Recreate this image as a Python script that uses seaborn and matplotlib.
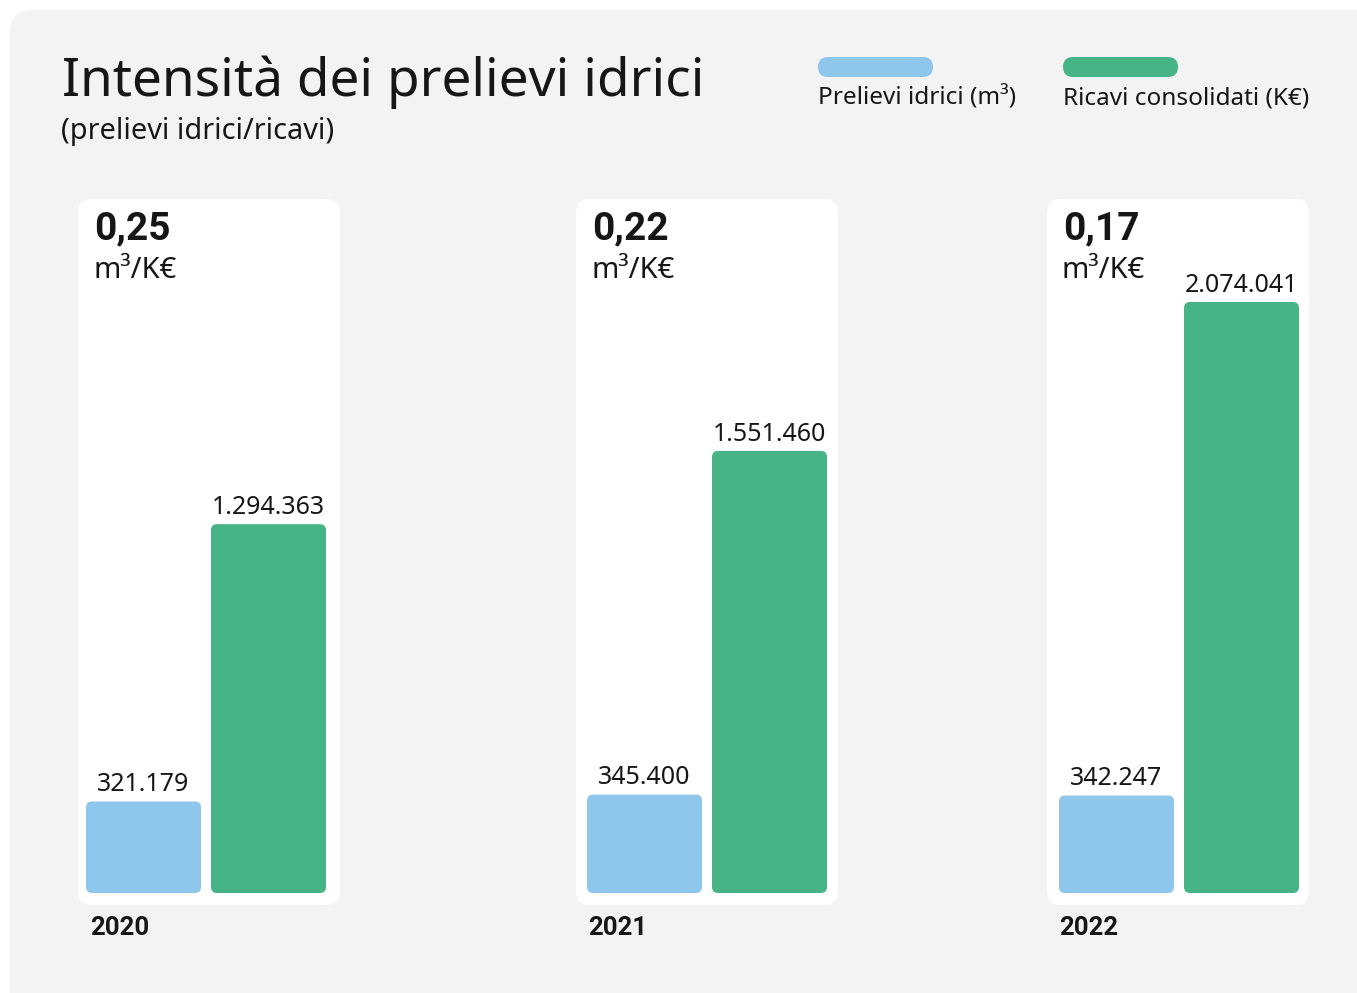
import matplotlib
matplotlib.use("Agg")
import matplotlib.pyplot as plt
from matplotlib.patches import FancyBboxPatch
from matplotlib.transforms import IdentityTransform
import seaborn as sns
import pandas as pd

# Data
years = ["2020", "2021", "2022"]
prelievi = [321179, 345400, 342247]          # m³
ricavi = [1294363, 1551460, 2074041]         # K€
series = ["Prelievi idrici (m³)", "Ricavi consolidati (K€)"]
colors = ["#8FC7EC", "#46B487"]

title = "Intensità dei prelievi idrici"
subtitle = "(prelievi idrici/ricavi)"
unit = "m³/K€"

W, H = 1357, 993
DPI = 100
sns.set_theme(style="white")
plt.rcParams["font.family"] = ["Noto Sans", "DejaVu Sans"]
BOLD = ["Roboto", "DejaVu Sans"]
TXT = "#161616"

fig = plt.figure(figsize=(W / DPI, H / DPI), dpi=DPI)
fig.patch.set_facecolor("white")


def rbox(x0, ytop, w, h, r, color, z=0):
    """Rounded box in pixel coordinates measured from the top-left corner."""
    p = FancyBboxPatch((x0, H - ytop - h), w, h,
                       boxstyle=f"round,pad=0,rounding_size={r}",
                       transform=IdentityTransform(), facecolor=color,
                       edgecolor="none", zorder=z)
    fig.patches.append(p)
    return p


def ftext(x, y, s, **kw):
    fig.text(x / W, 1 - y / H, s, color=TXT, **kw)


def fmt(v):
    return f"{v:,}".replace(",", ".")


# Grey panel
rbox(10, 10, W + 40, H + 40, 22, "#F3F3F3")

# Title and subtitle
ftext(62, 82, title, fontsize=38.3, va="center", ha="left")
ftext(61, 131, subtitle, fontsize=20.8, va="center", ha="left")

# Legend
for lx, lab, col in zip([818, 1063], series, colors):
    rbox(lx, 57, 115, 20, 10, col, z=1)
    ftext(lx, 98, lab, fontsize=17.5, va="center", ha="left")

card_x = [78, 576, 1047]
bar_x = [86, 587, 1059]
card_top, card_h, card_w = 199, 706, 262
base_y = 893            # bar baseline (px from top)
top_ref = 302           # pixel height reference for the y-scale
ymax = max(ricavi)

for i, yr in enumerate(years):
    cx = card_x[i]
    rbox(cx, card_top, card_w, card_h, 14, "white", z=1)

    ax = fig.add_axes([bar_x[i] / W, (H - base_y) / H, 240 / W, (base_y - top_ref) / H])
    ax.set_zorder(2)
    ax.patch.set_alpha(0)

    df = pd.DataFrame({"serie": series, "valore": [prelievi[i], ricavi[i]]})
    sns.barplot(data=df, x="serie", y="valore", hue="serie", palette=colors,
                saturation=1, width=0.92, ax=ax, legend=False)
    ax.set_xlim(-0.46, 1.46)
    ax.set_ylim(0, ymax)
    ax.axis("off")

    # Rounded bars taken from the seaborn rectangles, plus value labels
    for bar in list(ax.patches):
        x0, y0 = bar.get_x(), bar.get_y()
        bw, bh = bar.get_width(), bar.get_height()
        (px0, py0) = ax.transData.transform((x0, y0))
        (px1, py1) = ax.transData.transform((x0 + bw, y0 + bh))
        rp = FancyBboxPatch((px0, py0), px1 - px0, py1 - py0,
                            boxstyle="round,pad=0,rounding_size=6",
                            transform=IdentityTransform(),
                            facecolor=bar.get_facecolor(), edgecolor="none",
                            zorder=3)
        fig.patches.append(rp)
        bar.set_visible(False)
        ax.annotate(fmt(int(round(bh))), (x0 + bw / 2, y0 + bh),
                    xytext=(0, 3), textcoords="offset points",
                    ha="center", va="bottom", fontsize=18, color=TXT,
                    annotation_clip=False)

    ratio = prelievi[i] / ricavi[i]
    ftext(cx + 16, 229, f"{ratio:.2f}".replace(".", ","), fontsize=28,
          fontweight="bold", family=BOLD, va="center", ha="left")
    ftext(cx + 15, 270, unit, fontsize=21, va="center", ha="left")
    ftext(cx + 12, 928, yr, fontsize=18.5, fontweight="bold", family=BOLD,
          va="center", ha="left")

fig.savefig("out.png", dpi=DPI, facecolor="white")
